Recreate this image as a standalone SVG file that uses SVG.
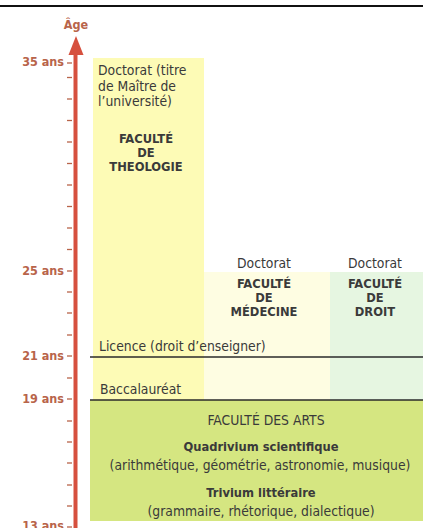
<svg xmlns="http://www.w3.org/2000/svg" width="423" height="528" viewBox="0 0 423 528">
<style>
.t{font-family:"DejaVu Sans Condensed","DejaVu Sans",sans-serif;font-stretch:condensed;font-size:13.8px;fill:#3a3a3a}
.b{font-weight:bold;font-size:12.8px;text-anchor:middle}
.c{text-anchor:middle}
.age{font-family:"DejaVu Sans Condensed","DejaVu Sans",sans-serif;font-stretch:condensed;font-size:12.5px;font-weight:bold;fill:#b8644a;text-anchor:end}
.tick{stroke:#b8644a;stroke-width:1.3}
.sep{stroke:#2a2a2a;stroke-width:1.6}
</style>
<rect width="423" height="528" fill="#ffffff"/>
<line x1="0" y1="6" x2="423" y2="6" stroke="#111" stroke-width="2"/>

<g id="theologie">
<rect x="93" y="58" width="111" height="342" fill="#fdfbb6"/>
<text class="t" x="98" y="75">Doctorat (titre</text>
<text class="t" x="98" y="91">de Maître de</text>
<text class="t" x="98" y="106">l’université)</text>
<text class="t b" x="146" y="143">FACULTÉ</text>
<text class="t b" x="146" y="157">DE</text>
<text class="t b" x="146" y="171">THEOLOGIE</text>
</g>

<g id="medecine">
<rect x="204" y="272" width="126" height="128" fill="#fefde2"/>
<text class="t c" x="264" y="268">Doctorat</text>
<text class="t b" x="264" y="288">FACULTÉ</text>
<text class="t b" x="264" y="302">DE</text>
<text class="t b" x="264" y="316">MÉDECINE</text>
</g>

<g id="droit">
<rect x="330" y="272" width="93" height="128" fill="#e6f6e1"/>
<text class="t c" x="375" y="268">Doctorat</text>
<text class="t b" x="375" y="288">FACULTÉ</text>
<text class="t b" x="375" y="302">DE</text>
<text class="t b" x="375" y="316">DROIT</text>
</g>

<g id="arts">
<rect x="90" y="400" width="333" height="121" fill="#d5e681"/>
<text class="t c" x="266" y="425">FACULTÉ DES ARTS</text>
<text class="t b" x="261" y="451">Quadrivium scientifique</text>
<text class="t c" x="260" y="470">(arithmétique, géométrie, astronomie, musique)</text>
<text class="t b" x="261" y="497">Trivium littéraire</text>
<text class="t c" x="261" y="516">(grammaire, rhétorique, dialectique)</text>
</g>

<g id="diplomes">
<line class="sep" x1="90" y1="357" x2="423" y2="357"/>
<text class="t" x="99" y="351">Licence (droit d’enseigner)</text>
<line class="sep" x1="90" y1="400" x2="423" y2="400"/>
<text class="t" x="100" y="394">Baccalauréat</text>
</g>

<g id="axe">
<line x1="75.5" y1="50" x2="75.5" y2="528" stroke="#d6503e" stroke-width="4"/>
<polygon points="76,36 83.5,55 68.5,55" fill="#d6503e"/>
<text class="age" x="76" y="29" style="text-anchor:middle">Âge</text>
<g class="tick">
<line x1="67" y1="63" x2="72" y2="63"/>
<line x1="67" y1="77.5" x2="72" y2="77.5"/>
<line x1="67" y1="99" x2="72" y2="99"/>
<line x1="67" y1="120.5" x2="72" y2="120.5"/>
<line x1="67" y1="142" x2="72" y2="142"/>
<line x1="67" y1="163.5" x2="72" y2="163.5"/>
<line x1="67" y1="185" x2="72" y2="185"/>
<line x1="67" y1="206.5" x2="72" y2="206.5"/>
<line x1="67" y1="228" x2="72" y2="228"/>
<line x1="67" y1="249.5" x2="72" y2="249.5"/>
<line x1="67" y1="271" x2="72" y2="271"/>
<line x1="67" y1="292" x2="72" y2="292"/>
<line x1="67" y1="313" x2="72" y2="313"/>
<line x1="67" y1="335" x2="72" y2="335"/>
<line x1="67" y1="356" x2="72" y2="356"/>
<line x1="67" y1="378" x2="72" y2="378"/>
<line x1="67" y1="399" x2="72" y2="399"/>
<line x1="67" y1="421" x2="72" y2="421"/>
<line x1="67" y1="442" x2="72" y2="442"/>
<line x1="67" y1="463" x2="72" y2="463"/>
<line x1="67" y1="485" x2="72" y2="485"/>
<line x1="67" y1="506" x2="72" y2="506"/>
<line x1="67" y1="527" x2="72" y2="527"/>
</g>
<text class="age" x="64" y="66">35 ans</text>
<text class="age" x="64" y="275">25 ans</text>
<text class="age" x="64" y="360">21 ans</text>
<text class="age" x="64" y="403">19 ans</text>
<text class="age" x="64" y="530">13 ans</text>
</g>
</svg>
